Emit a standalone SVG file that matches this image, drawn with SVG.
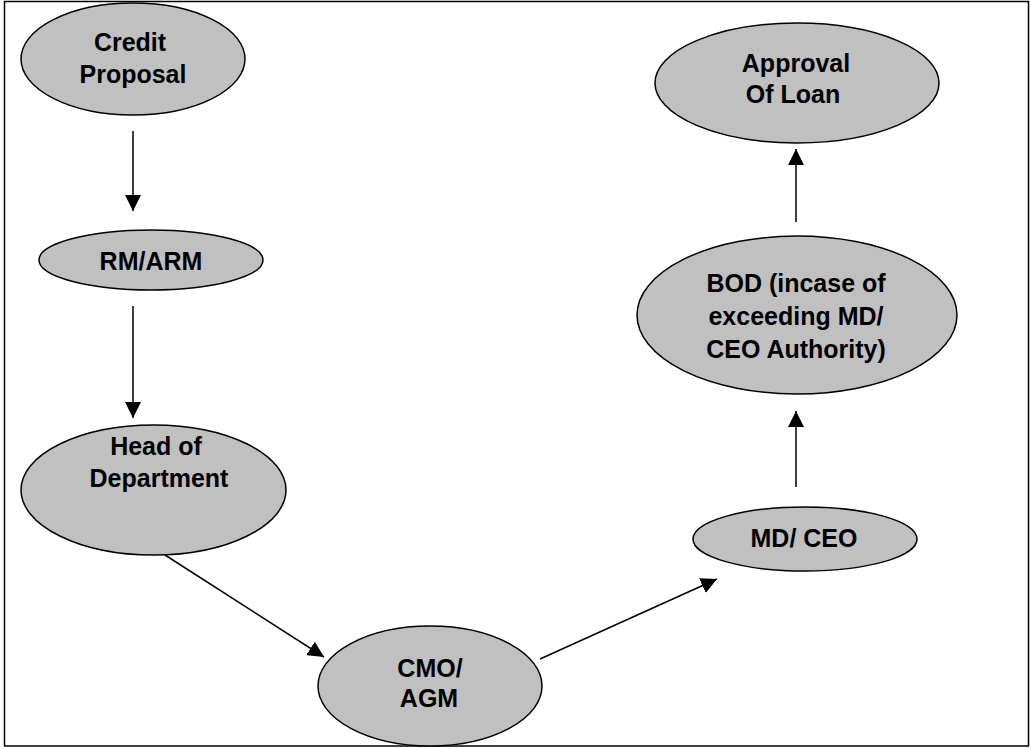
<svg xmlns="http://www.w3.org/2000/svg" width="1030" height="748" viewBox="0 0 1030 748">
<style>
.n{fill:#c0c0c0;stroke:#000;stroke-width:1.5}
.t{font-family:"Liberation Sans",Arial,sans-serif;font-weight:bold;font-size:25px;fill:#000;text-anchor:middle}
.c{stroke:#000;stroke-width:1.5;fill:none;marker-end:url(#ah)}
</style>
<defs>
<marker id="ah" markerUnits="userSpaceOnUse" markerWidth="16" markerHeight="16" viewBox="0 0 16 16" refX="16" refY="8" orient="auto">
<path d="M0,0 L16,8 L0,16 z" fill="#000"/>
</marker>
</defs>
<rect x="0" y="0" width="1030" height="748" fill="#fff"/>
<rect x="4.5" y="1.5" width="1024" height="744.5" fill="none" stroke="#000" stroke-width="1.5"/>
<g id="connectors">
<line class="c" x1="133" y1="131" x2="133" y2="211"/>
<line class="c" x1="133" y1="306" x2="133" y2="418"/>
<line class="c" x1="165" y1="555" x2="324" y2="657"/>
<line class="c" x1="540" y1="659" x2="717" y2="579"/>
<line class="c" x1="796" y1="487" x2="796" y2="411"/>
<line class="c" x1="796" y1="222" x2="796" y2="149"/>
</g>
<g id="credit">
<ellipse class="n" cx="133" cy="59" rx="112" ry="56"/>
<text class="t" x="130" y="51">Credit</text>
<text class="t" x="133" y="83">Proposal</text>
</g>
<g id="rmarm">
<ellipse class="n" cx="151" cy="260" rx="112" ry="30"/>
<text class="t" x="151" y="270">RM/ARM</text>
</g>
<g id="head">
<ellipse class="n" cx="153.5" cy="490" rx="132.5" ry="65"/>
<text class="t" x="156" y="455">Head of</text>
<text class="t" x="159" y="487">Department</text>
</g>
<g id="cmo">
<ellipse class="n" cx="430" cy="686" rx="112" ry="60"/>
<text class="t" x="430" y="677">CMO/</text>
<text class="t" x="429" y="707">AGM</text>
</g>
<g id="mdceo">
<ellipse class="n" cx="805" cy="539" rx="112" ry="32"/>
<text class="t" x="804" y="547">MD/ CEO</text>
</g>
<g id="bod">
<ellipse class="n" cx="797" cy="315" rx="160" ry="79"/>
<text class="t" x="796" y="292">BOD (incase of</text>
<text class="t" x="796" y="325">exceeding MD/</text>
<text class="t" x="796" y="358">CEO Authority)</text>
</g>
<g id="approval">
<ellipse class="n" cx="797" cy="83" rx="142" ry="60"/>
<text class="t" x="796" y="72">Approval</text>
<text class="t" x="793" y="103">Of Loan</text>
</g>
</svg>
